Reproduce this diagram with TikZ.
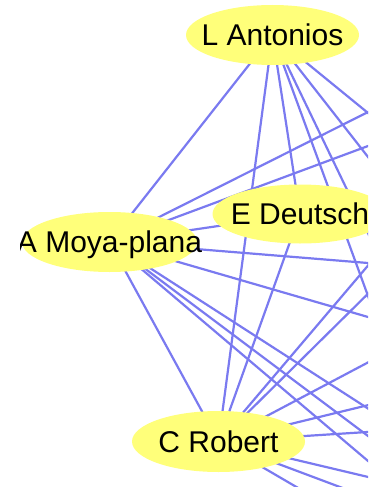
\documentclass[tikz,border=0pt]{standalone}
\usepackage{fontspec}
\setmainfont{Liberation Sans}
\usetikzlibrary{shapes.geometric,backgrounds}
\definecolor{nodefill}{RGB}{255,255,122}
\definecolor{edgecol}{RGB}{122,122,240}
\begin{document}
\begin{tikzpicture}[x=1pt,y=-1pt,
  person/.style={ellipse,fill=nodefill,draw=none,inner sep=0pt,
    text height=21.5pt,text depth=0pt,
    font=\fontsize{30}{36}\selectfont},
  edge/.style={draw=edgecol,line width=2.2pt}]
\useasboundingbox (0,0) rectangle (368,487);
\clip (20.5,0) rectangle (368,487);
% people
\node[person,minimum width=173pt,minimum height=60pt] (LA) at (272.5,35) {\makebox[0pt]{L Antonios}};
\node[person,minimum width=175pt,minimum height=60pt] (AM) at (109.5,242) {\makebox[0pt]{A Moya-plana}};
\node[person,minimum width=175pt,minimum height=59pt] (ED) at (300,214) {\makebox[0pt]{E Deutsch}};
\node[person,minimum width=173pt,minimum height=61pt] (CR) at (218.5,441.5) {\makebox[0pt]{C Robert}};
% co-authors outside the view
\coordinate (e4) at (377.6,322.1);
\coordinate (e5) at (378,254);
\coordinate (e6) at (377.6,169.2);
\coordinate (e7) at (377.6,120.8);
\coordinate (u1) at (393.9,99);
\coordinate (u2) at (393.9,136.4);
\coordinate (a1) at (393.9,265.1);
\coordinate (b1) at (393.9,324.5);
\coordinate (f1) at (393.9,425.2);
\coordinate (f2) at (393.9,455.4);
\coordinate (f3) at (393.9,482.9);
\coordinate (c1) at (383,247.9);
\coordinate (c2) at (383,278.9);
\coordinate (c3) at (383,354.5);
\coordinate (c4) at (383,401.5);
\coordinate (c5) at (383,431);
\coordinate (c6) at (383,480.5);
\coordinate (c7) at (353.3,492);
\coordinate (c8) at (305,492);
\begin{pgfonlayer}{background}
\clip (0,0) rectangle (368,487);
\draw[edge] (LA.center) -- (AM.center);
\draw[edge] (LA.center) -- (CR.center);
\draw[edge] (LA.center) -- (ED.center);
\draw[edge] (LA.center) -- (e4);
\draw[edge] (LA.center) -- (e5);
\draw[edge] (LA.center) -- (e6);
\draw[edge] (LA.center) -- (e7);
\draw[edge] (AM.center) -- (u1);
\draw[edge] (AM.center) -- (u2);
\draw[edge] (AM.center) -- (ED.center);
\draw[edge] (AM.center) -- (a1);
\draw[edge] (AM.center) -- (b1);
\draw[edge] (AM.center) -- (f1);
\draw[edge] (AM.center) -- (f2);
\draw[edge] (AM.center) -- (f3);
\draw[edge] (AM.center) -- (CR.center);
\draw[edge] (ED.center) -- (CR.center);
\draw[edge] (CR.center) -- (c1);
\draw[edge] (CR.center) -- (c2);
\draw[edge] (CR.center) -- (c3);
\draw[edge] (CR.center) -- (c4);
\draw[edge] (CR.center) -- (c5);
\draw[edge] (CR.center) -- (c6);
\draw[edge] (CR.center) -- (c7);
\draw[edge] (CR.center) -- (c8);
\end{pgfonlayer}
\end{tikzpicture}
\end{document}
